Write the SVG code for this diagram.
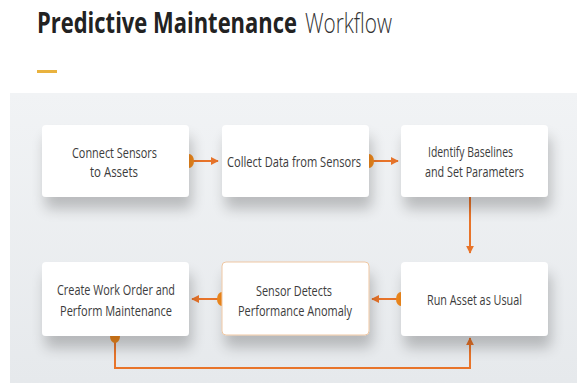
<svg xmlns="http://www.w3.org/2000/svg" width="577" height="383" viewBox="0 0 577 383">
<defs>
<linearGradient id="bg" x1="0" y1="0" x2="0" y2="1">
<stop offset="0" stop-color="#f1f3f5"/>
<stop offset="1" stop-color="#e6e9ec"/>
</linearGradient>
<filter id="sh" x="-20%" y="-20%" width="140%" height="170%">
<feGaussianBlur in="SourceAlpha" stdDeviation="7"/>
<feOffset dx="3" dy="12" result="b"/>
<feComponentTransfer><feFuncA type="linear" slope="0.22"/></feComponentTransfer>
<feMerge><feMergeNode/><feMergeNode in="SourceGraphic"/></feMerge>
</filter>
<marker id="ah" viewBox="0 0 10 10" refX="9" refY="5" markerWidth="4" markerHeight="4" orient="auto" markerUnits="strokeWidth">
<path d="M0,0 L10,5 L0,10 z" fill="#e8742a"/>
</marker>
</defs>
<style>
.box{fill:#ffffff;rx:4;filter:url(#sh)}
.hl{stroke:#eec7a3;stroke-width:1}
.t{font-family:"Open Sans","Liberation Sans",sans-serif;font-size:14.5px;fill:#3c3c3c;text-anchor:start}
.ln{fill:none;stroke:#e8742a;stroke-width:2}
.dot{fill:#f28a1d}
.ti{font-family:"Open Sans","Liberation Sans",sans-serif;font-size:28px}
</style>
<rect x="0" y="0" width="577" height="383" fill="#ffffff"/>
<rect x="10" y="93" width="567" height="290" fill="url(#bg)"/>
<g id="title">
<text class="ti" transform="translate(37,33) scale(0.8,1)" x="0" y="0" font-weight="700" fill="#222" textLength="325" lengthAdjust="spacingAndGlyphs">Predictive Maintenance</text>
<text class="ti" transform="translate(305,33) scale(0.78,1)" x="0" y="0" font-weight="300" fill="#333" textLength="111.5" lengthAdjust="spacingAndGlyphs">Workflow</text>
<rect x="37" y="70" width="20" height="3" fill="#e9b23e"/>
</g>
<g id="connectors">
<line class="ln" x1="189" y1="161" x2="218" y2="161" marker-end="url(#ah)"/>
<line class="ln" x1="369" y1="161" x2="398" y2="161" marker-end="url(#ah)"/>
<line class="ln" x1="470" y1="197" x2="470" y2="253" marker-end="url(#ah)"/>
<line class="ln" x1="401" y1="299" x2="372" y2="299" marker-end="url(#ah)"/>
<line class="ln" x1="222" y1="299" x2="192" y2="299" marker-end="url(#ah)"/>
<polyline class="ln" points="115,336 115,368 470,368 470,338" marker-end="url(#ah)"/>
<ellipse class="dot" cx="189" cy="161" rx="5" ry="7"/>
<ellipse class="dot" cx="369" cy="161" rx="5" ry="7"/>
<ellipse class="dot" cx="401" cy="299" rx="5" ry="7"/>
<ellipse class="dot" cx="222" cy="299" rx="5" ry="7"/>
<ellipse class="dot" cx="115" cy="336" rx="5" ry="7"/>
</g>
<g id="n1"><rect class="box" x="42" y="125" width="147" height="72"/>
<text class="t" x="72" y="158" textLength="85" lengthAdjust="spacingAndGlyphs">Connect Sensors</text>
<text class="t" x="90" y="177" textLength="48" lengthAdjust="spacingAndGlyphs">to Assets</text></g>
<g id="n2"><rect class="box" x="222" y="125" width="147" height="72"/>
<text class="t" x="227" y="167" textLength="134" lengthAdjust="spacingAndGlyphs">Collect Data from Sensors</text></g>
<g id="n3"><rect class="box" x="401" y="125" width="147" height="72"/>
<text class="t" x="428" y="157" textLength="85" lengthAdjust="spacingAndGlyphs">Identify Baselines</text>
<text class="t" x="425" y="177" textLength="99" lengthAdjust="spacingAndGlyphs">and Set Parameters</text></g>
<g id="n4"><rect class="box" x="42" y="262" width="147" height="74"/>
<text class="t" x="57" y="295" textLength="118" lengthAdjust="spacingAndGlyphs">Create Work Order and</text>
<text class="t" x="60" y="316" textLength="112" lengthAdjust="spacingAndGlyphs">Perform Maintenance</text></g>
<g id="n5"><rect class="box hl" x="222" y="262" width="147" height="73"/>
<text class="t" x="256" y="296" textLength="76" lengthAdjust="spacingAndGlyphs">Sensor Detects</text>
<text class="t" x="238" y="316" textLength="114" lengthAdjust="spacingAndGlyphs">Performance Anomaly</text></g>
<g id="n6"><rect class="box" x="401" y="262" width="147" height="74"/>
<text class="t" x="427" y="305" textLength="95" lengthAdjust="spacingAndGlyphs">Run Asset as Usual</text></g>
</svg>
